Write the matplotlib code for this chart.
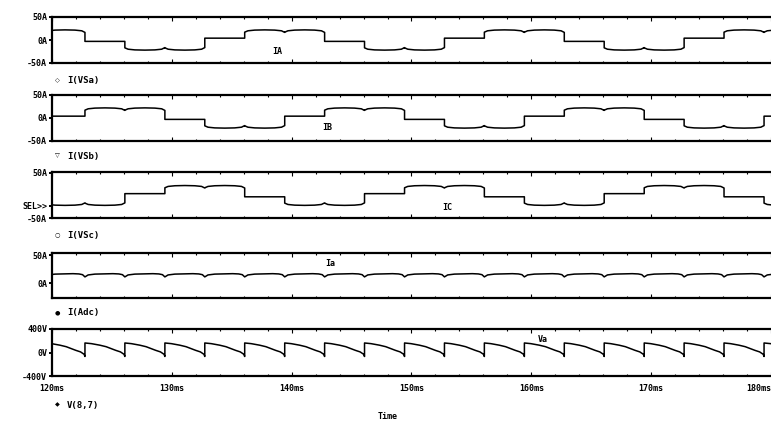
import numpy as np
import matplotlib
matplotlib.use("Agg")
import matplotlib.pyplot as plt

# commutation instants (ms)
comm_ms = [116.08, 119.42, 122.75, 126.08, 129.42, 132.75, 136.08, 139.42,
           142.75, 146.08, 149.42, 152.75, 156.08, 159.42, 162.75, 166.08,
           169.42, 172.75, 176.08, 179.42, 182.75]

# conduction state of each phase in each interval (+1 high, 0 off, -1 low)
ia_state = [1, 1, 0, -1, -1, 0, 1, 1, 0, -1, -1, 0, 1, 1, 0, -1, -1, 0, 1, 1]
ib_state = [-1, 0, 1, 1, 0, -1, -1, 0, 1, 1, 0, -1, -1, 0, 1, 1, 0, -1, -1, 0]
ic_state = [0, -1, -1, 0, 1, 1, 0, -1, -1, 0, 1, 1, 0, -1, -1, 0, 1, 1, 0, -1]

# shape of one interval (fraction of interval -> value)
phase_frac = [0.0, 0.08, 0.25, 0.5, 0.75, 0.92, 1.0]
phase_amp = [17.0, 20.0, 21.5, 22.0, 21.5, 20.0, 16.5]     # A
zero_after_high = -3.0   # A
zero_after_low = 4.0     # A

idc_frac = [0.0, 0.08, 0.25, 0.5, 0.7, 0.85, 0.94, 1.0]
idc_amp = [11.0, 14.5, 16.0, 16.5, 16.8, 16.3, 15.0, 11.0]  # A

va_frac = [0.0, 0.16, 0.37, 0.53, 0.69, 0.77, 0.89, 0.98, 1.0]
va_amp = [162, 151, 125, 99, 57, 37, 10, -31, -68]          # V

x_ticks = [120, 130, 140, 150, 160, 170, 180]
x_labels = ["120ms", "130ms", "140ms", "150ms", "160ms", "170ms", "180ms"]

W, H = 771, 423
MONO = "DejaVu Sans Mono"


def phase_trace(states):
    t, y = [], []
    prev = 1
    for k, s in enumerate(states):
        t0, t1 = comm_ms[k], comm_ms[k + 1]
        if s == 0:
            lvl = zero_after_high if prev > 0 else zero_after_low
            t += [t0, t1]
            y += [lvl, lvl]
        else:
            t += [t0 + f * (t1 - t0) for f in phase_frac]
            y += [s * v for v in phase_amp]
            prev = s
    return np.array(t), np.array(y)


def periodic_trace(frac, amp):
    t, y = [], []
    for k in range(len(comm_ms) - 1):
        t0, t1 = comm_ms[k], comm_ms[k + 1]
        t += [t0 + f * (t1 - t0) for f in frac]
        y += list(amp)
    return np.array(t), np.array(y)


def px_axes(fig, top, bottom, left=52, right=771):
    return fig.add_axes([left / W, 1 - bottom / H, (right - left) / W, (bottom - top) / H])


def style(ax, yticks, ylabels, ylim, show_x=False):
    ax.set_xlim(120, 180)
    ax.set_ylim(*ylim)
    ax.set_yticks(yticks)
    ax.set_yticklabels(ylabels, fontsize=6, fontweight="bold", family=MONO)
    ax.spines["right"].set_visible(False)
    for s in ("top", "bottom", "left"):
        ax.spines[s].set_linewidth(1.6)
    ax.tick_params(axis="y", direction="out", length=2.5, width=1.4, pad=1)
    ax.set_xticks(x_ticks)
    ax.set_xticks(np.arange(120, 181, 2), minor=True)
    ax.tick_params(axis="x", which="both", direction="in", top=True, width=0.8)
    ax.tick_params(axis="x", which="major", length=3)
    ax.tick_params(axis="x", which="minor", length=1.5)
    if show_x:
        ax.set_xticklabels(x_labels, fontsize=6, fontweight="bold", family=MONO)
        ax.tick_params(axis="x", pad=6)
        lbls = ax.get_xticklabels()
        lbls[-1].set_horizontalalignment("right")
    else:
        ax.set_xticklabels([])


fig = plt.figure(figsize=(W / 100, H / 100), dpi=100)

panels = [(17, 63), (95, 141), (172, 218), (253, 298), (329, 376)]
traces = [phase_trace(ia_state), phase_trace(ib_state), phase_trace(ic_state),
          periodic_trace(idc_frac, idc_amp), periodic_trace(va_frac, va_amp)]

axes = []
for (top, bot), (t, y) in zip(panels, traces):
    ax = px_axes(fig, top, bot)
    ax.plot(t, y, color="black", lw=1.1)
    axes.append(ax)

style(axes[0], [-50, 0, 50], ["-50A", "0A", "50A"], (-50, 50))
style(axes[1], [-50, 0, 50], ["-50A", "0A", "50A"], (-50, 50))
style(axes[2], [-50, -23, 50], ["-50A", "SEL>>", "50A"], (-50, 52))
style(axes[3], [0, 50], ["0A", "50A"], (-27, 54))
style(axes[4], [-400, 0, 400], ["-400V", "0V", "400V"], (-400, 400), show_x=True)

# trace names inside the panels
names = [("IA", 277, 52), ("IB", 327, 128), ("IC", 447, 207), ("Ia", 330, 263), ("Va", 543, 339)]
for txt, x, y in names:
    fig.text(x / W, 1 - y / H, txt, fontsize=6, fontweight="bold", family=MONO,
             ha="center", va="center")

# probe labels under each panel
probes = [("\u25c7", "I(VSa)", 81), ("\u25bd", "I(VSb)", 156), ("\u25cb", "I(VSc)", 235),
          ("\u25cf", "I(Adc)", 313), ("\u25c6", "V(8,7)", 405)]
for mk, txt, y in probes:
    fig.text(57 / W, 1 - y / H, mk, fontsize=4.5, ha="center", va="center")
    fig.text(67 / W, 1 - y / H, txt, fontsize=6.5, fontweight="bold", family=MONO,
             ha="left", va="center")

fig.text(388 / W, 1 - 416 / H, "Time", fontsize=6, fontweight="bold", family=MONO,
         ha="center", va="center")

fig.savefig("out.png", dpi=100)
